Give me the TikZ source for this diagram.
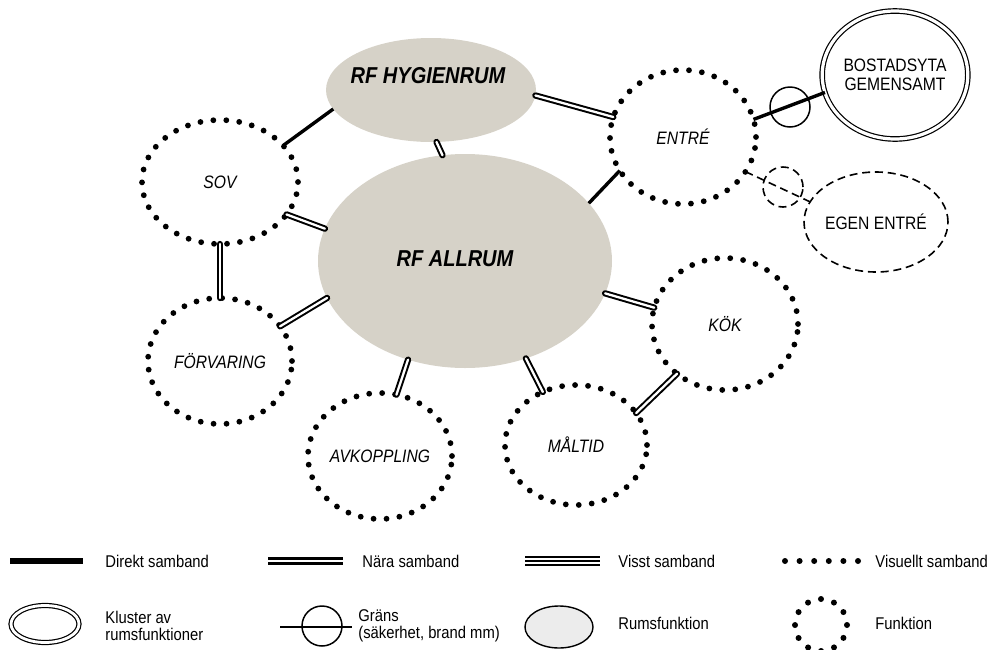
\documentclass[tikz,border=0pt]{standalone}
\usepackage{fontspec}
\setmainfont{Liberation Sans}[FakeStretch=0.87]
\usetikzlibrary{shapes.geometric}
\definecolor{rfgrey}{RGB}{214,210,200}
\definecolor{legendgrey}{RGB}{236,236,236}

\begin{document}
\begin{tikzpicture}[
    x=0.5pt, y=-0.5pt,
    rumsfunktion/.style={ellipse, fill=rfgrey, draw=none, inner sep=0pt, outer sep=0pt},
    rftext/.style={inner sep=0pt, font=\fontsize{11.5}{12}\bfseries\itshape},
    funktion/.style={ellipse, draw, line width=2.9pt, line cap=round, dash pattern=on 0pt off 6.5pt,
                     inner sep=0pt, outer sep=0pt, font=\fontsize{9}{10}\itshape},
    kluster/.style={ellipse, draw, double, line width=0.6pt, double distance=1.6pt, inner sep=0pt, outer sep=0pt,
                    align=center, font=\fontsize{9}{9.5}\selectfont},
    egen/.style={ellipse, draw, line width=0.8pt, dash pattern=on 4pt off 2.4pt, inner sep=0pt, outer sep=0pt,
                 font=\fontsize{9}{10}\selectfont},
    grans/.style={circle, draw, line width=0.75pt, inner sep=0pt, minimum size=20pt},
    direkt/.style={line width=1.7pt},
    naera/.style={double, line width=1pt, double distance=1.15pt, line cap=round},
    legtext/.style={anchor=west, inner sep=0pt, align=left, font=\fontsize{8.5}{8.6}\selectfont}
]
\useasboundingbox (0,0) rectangle (992,649);

% Nodes
\node[rumsfunktion, minimum width=105pt, minimum height=52pt]   (hyg)     at (431,90)   {};
\node[rumsfunktion, minimum width=147pt, minimum height=107pt]  (allrum)  at (465,261)  {};
\node[rftext]                                                   (hygtxt)  at (428,76)   {RF HYGIENRUM};
\node[rftext]                                                   (alltxt)  at (455,259)  {RF ALLRUM};
\node[funktion, minimum width=78pt, minimum height=62pt]        (sov)     at (220,182)  {SOV};
\node[funktion, minimum width=72pt, minimum height=63pt]        (frv)     at (220,361)  {FÖRVARING};
\node[funktion, minimum width=72pt, minimum height=63pt]        (avk)     at (380,456)  {AVKOPPLING};
\node[funktion, minimum width=71pt, minimum height=60pt]        (mal)     at (576,445)  {MÅLTID};
\node[funktion, minimum width=73pt, minimum height=66pt]        (kok)     at (725,324)  {KÖK};
\node[funktion, minimum width=73pt, minimum height=67pt]        (ent)     at (683,137)  {ENTRÉ};
\node[kluster, minimum width=69pt, minimum height=64pt]         (bos)     at (895,75)   {BOSTADSYTA\\GEMENSAMT};
\node[egen, minimum width=57pt, minimum height=50pt]            (egent)   at (876,222)  {EGEN ENTRÉ};
\node[grans]                                                    (gr1)     at (790,107)  {};
\node[grans, dash pattern=on 4pt off 2.4pt, line width=0.8pt]   (gr2)     at (783,187)  {};

% Connectors
\draw[direkt] (sov.30) -- (hyg.191);
\draw[naera]  (hyg.357) -- (ent.164);
\draw[naera]  (hyg.276) -- (allrum.102);
\draw[direkt] (ent.208) -- (allrum.25);
\draw[naera]  (sov.334) -- (allrum.167);
\draw[naera]  (sov.270) -- (frv.90);
\draw[naera]  (frv.30) -- (allrum.195);
\draw[naera]  (allrum.240) -- (avk.75);
\draw[naera]  (allrum.302) -- (mal.122);
\draw[naera]  (allrum.347) -- (kok.167);
\draw[naera]  (kok.226) -- (mal.28);
\draw[direkt] (ent.14) -- (bos.194);
\draw[line width=0.8pt, dash pattern=on 4pt off 2.4pt] (ent.331) -- (egent.163);

% Legend
\draw[line width=3pt] (10,561) -- (83,561);
\node[legtext] (lgdirekt) at (105,561) {Direkt samband};
\draw[double, line width=1.35pt, double distance=1.35pt] (268,561) -- (343,561);
\node[legtext] (lgnaera) at (362,561) {Nära samband};
\draw[double, line width=1pt, double distance=3pt] (525,561) -- (600,561);
\draw[line width=1pt] (525,561) -- (600,561);
\node[legtext] (lgvisst) at (618,561) {Visst samband};
\draw[line width=3pt, line cap=round, dash pattern=on 0pt off 7.3pt] (785,561) -- (859,561);
\node[legtext] (lgvisuellt) at (875,561) {Visuellt samband};

\node[kluster, minimum width=34pt, minimum height=18.5pt, double distance=1.4pt] (lgkluster) at (45,624) {};
\node[legtext] (lgklustertxt) at (105,626) {Kluster av\\rumsfunktioner};
\draw[line width=0.7pt] (280,627) -- (352,627);
\node[grans] (lggrans) at (322,626) {};
\node[legtext] (lggranstxt) at (358,626) {Gräns\\(säkerhet, brand mm)};
\node[ellipse, draw, line width=0.7pt, fill=legendgrey, minimum width=34pt, minimum height=21pt, inner sep=0pt] (lgrf) at (559,627) {};
\node[legtext] (lgrftxt) at (618,623) {Rumsfunktion};
\node[funktion, minimum width=26pt, minimum height=26pt, line width=3pt, dash pattern=on 0pt off 6.8pt] (lgfunk) at (821,625) {};
\node[legtext] (lgfunktxt) at (875,623) {Funktion};

\end{tikzpicture}
\end{document}
